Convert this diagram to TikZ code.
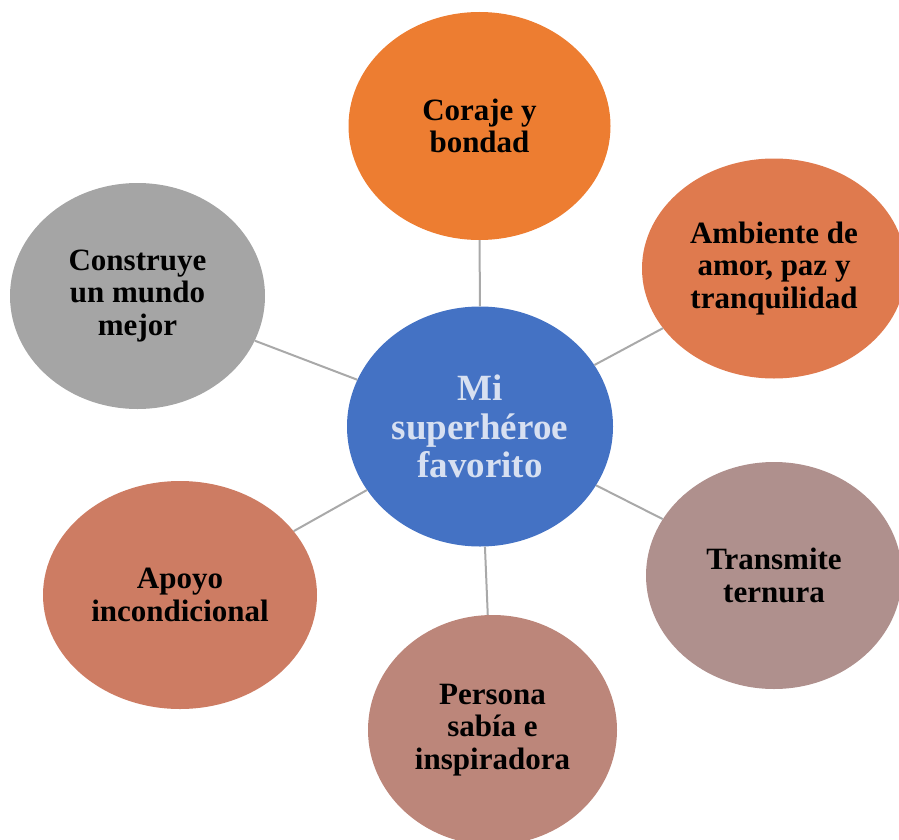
\documentclass[tikz,border=0pt]{standalone}
\usepackage{fontspec}
\setmainfont{Liberation Serif}
\usetikzlibrary{shapes.geometric}
\definecolor{cOrange}{HTML}{ED7D31}
\definecolor{cAmb}{HTML}{DF7A4E}
\definecolor{cBlue}{HTML}{4472C4}
\definecolor{cBlueTxt}{HTML}{D7E0F1}
\definecolor{cGray}{HTML}{A5A5A5}
\definecolor{cTrans}{HTML}{AF908D}
\definecolor{cPers}{HTML}{BC867A}
\definecolor{cApoyo}{HTML}{CD7C63}
\definecolor{cLine}{HTML}{A9A9A9}
\tikzset{
  bubble/.style={ellipse, inner sep=0pt, align=center, draw=none,
    font=\fontsize{31}{32.5}\selectfont\bfseries, text=black},
  link/.style={draw=cLine, line width=2pt}
}
\begin{document}
\begin{tikzpicture}[x=1pt,y=-1pt]
\useasboundingbox (0,0) rectangle (899,840);
\node[bubble, fill=cBlue, minimum width=266pt, minimum height=240pt, text=cBlueTxt,
  font=\fontsize{37}{38.5}\selectfont\bfseries] (c) at (480,426.5) {Mi\\superhéroe\\favorito};
\node[bubble, fill=cOrange, minimum width=262pt, minimum height=228pt] (t) at (479.5,126) {Coraje y\\bondad};
\node[bubble, fill=cAmb, minimum width=264pt, minimum height=220pt] (tr) at (774,268.5) {Ambiente de\\amor, paz y\\tranquilidad};
\node[bubble, fill=cTrans, minimum width=256pt, minimum height=227pt] (br) at (774,575.5) {Transmite\\ternura};
\node[bubble, fill=cPers, minimum width=249pt, minimum height=230pt] (b) at (492.5,730) {Persona\\sabía e\\inspiradora};
\node[bubble, fill=cApoyo, minimum width=274pt, minimum height=228pt] (bl) at (180,595) {Apoyo\\incondicional};
\node[bubble, fill=cGray, minimum width=255pt, minimum height=226pt] (tl) at (137.5,296) {Construye\\un mundo\\mejor};
\draw[link] (c) -- (t);
\draw[link] (c) -- (tr);
\draw[link] (c) -- (br);
\draw[link] (c) -- (b);
\draw[link] (c) -- (bl);
\draw[link] (c) -- (tl);
\end{tikzpicture}
\end{document}
